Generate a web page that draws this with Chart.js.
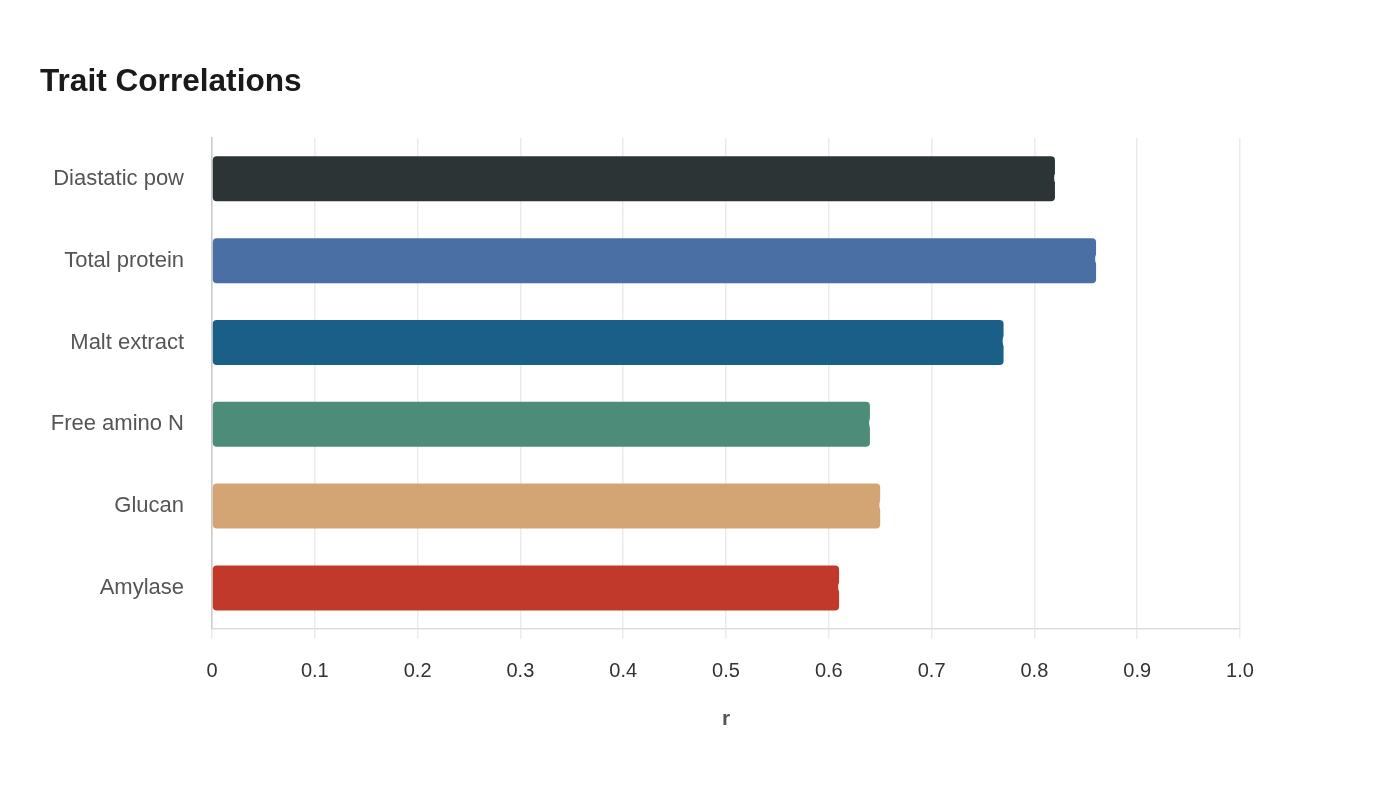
<!DOCTYPE html>
<html>
<head>
<meta charset="utf-8">
<script src="https://cdn.jsdelivr.net/npm/chart.js@4"></script>
<style>
  html, body { margin: 0; padding: 0; background: #fff; }
  #wrap { width: 1400px; height: 800px; }
</style>
</head>
<body>
<div id="wrap"><canvas id="chart" width="1400" height="800"></canvas></div>
<script>
const traits = ['Diastatic pow', 'Total protein', 'Malt extract', 'Free amino N', 'Glucan', 'Amylase'];
const correlations = [0.82, 0.86, 0.77, 0.64, 0.65, 0.61];
const barColors = ['#2d3436', '#4a6fa5', '#1a5f87', '#4e8c7a', '#d4a574', '#c0392b'];
const xTicks = [0, 0.1, 0.2, 0.3, 0.4, 0.5, 0.6, 0.7, 0.8, 0.9, 1.0];

const FONT = 'Liberation Sans, Arial, sans-serif';

// value labels at the bar ends, drawn in white (they only show where they bite the bar)
const endLabels = {
  id: 'endLabels',
  afterDatasetsDraw(chart) {
    const c = chart.ctx;
    const meta = chart.getDatasetMeta(0);
    c.save();
    c.font = '17px ' + FONT;
    c.fillStyle = '#ffffff';
    c.textAlign = 'left';
    c.textBaseline = 'middle';
    meta.data.forEach((bar, i) => {
      c.fillText(correlations[i].toFixed(2), bar.x - 1.5, bar.y);
    });
    c.restore();
  },
};

const ctx = document.getElementById('chart').getContext('2d');
new Chart(ctx, {
  type: 'bar',
  data: {
    labels: traits,
    datasets: [
      {
        label: 'r',
        data: correlations,
        backgroundColor: barColors,
        borderRadius: 4,
        borderSkipped: false,
        barPercentage: 0.55,
        categoryPercentage: 1.0,
      },
    ],
  },
  plugins: [endLabels],
  options: {
    indexAxis: 'y',
    responsive: false,
    animation: false,
    layout: { padding: { left: 40, right: 160, top: 63, bottom: 64 } },
    plugins: {
      legend: { display: false },
      tooltip: { enabled: false },
      title: {
        display: true,
        text: 'Trait Correlations',
        align: 'start',
        color: '#1a1a1a',
        font: { family: FONT, size: 31.6, weight: 'bold' },
        padding: { top: 0, bottom: 37 },
      },
    },
    scales: {
      x: {
        type: 'linear',
        min: 0,
        max: 1.0,
        afterBuildTicks: (axis) => { axis.ticks = xTicks.map((v) => ({ value: v })); },
        ticks: {
          color: '#333',
          padding: 21,
          font: { family: FONT, size: 20 },
          callback: (v) => (v === 0 ? '0' : Number(v).toFixed(1)),
        },
        grid: { color: '#ebebeb', lineWidth: 1.5, tickLength: 10 },
        border: { color: '#dddddd', width: 1.5 },
        title: {
          display: true,
          text: 'r',
          color: '#555',
          font: { family: FONT, size: 21, weight: 'bold' },
          padding: { top: 2 },
        },
      },
      y: {
        type: 'category',
        offset: true,
        afterFit: (axis) => { axis.width = 172; },
        ticks: {
          color: '#555',
          padding: 20,
          font: { family: FONT, size: 22 },
        },
        grid: { display: false },
        border: { color: '#cccccc', width: 1.5 },
      },
    },
  },
});
</script>
</body>
</html>
